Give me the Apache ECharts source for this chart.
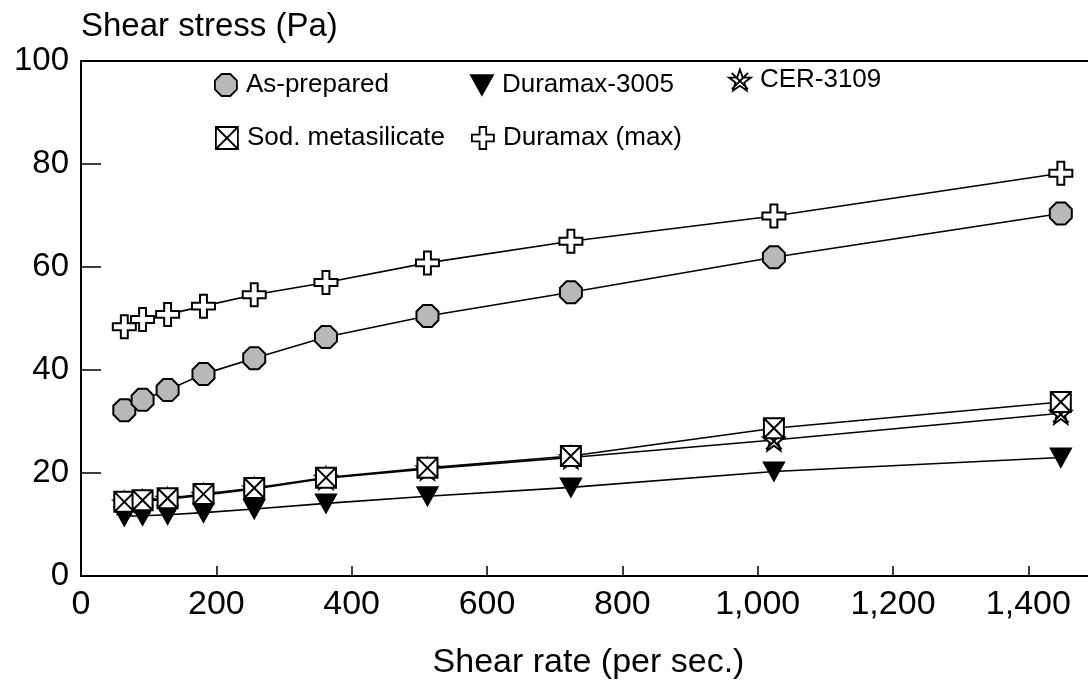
<!DOCTYPE html>
<html>
<head>
<meta charset="utf-8">
<script src="https://cdn.jsdelivr.net/npm/echarts@6/dist/echarts.min.js"></script>
<style>
  html, body { margin: 0; padding: 0; background: #fff; }
  #chart { width: 1088px; height: 681px; }
</style>
</head>
<body>
<div id="chart"></div>
<script>
// shear rate (per sec.), same for every sample
var shearRates = [64, 91, 128, 181, 256, 362, 512, 724, 1024, 1448];

// shear stress (Pa) per sample
var asPrepared      = [32.2, 34.2, 36.1, 39.2, 42.3, 46.4, 50.5, 55.1, 61.9, 70.4];
var duramax3005     = [11.6, 11.7, 11.9, 12.3, 13.0, 14.1, 15.5, 17.2, 20.3, 23.0];
var cer3109         = [14.2, 14.5, 14.9, 15.7, 16.9, 19.0, 20.8, 23.0, 26.4, 31.6];
var sodMetasilicate = [14.4, 14.7, 15.1, 15.9, 17.1, 19.1, 21.0, 23.3, 28.7, 33.8];
var duramaxMax      = [48.4, 49.8, 50.8, 52.4, 54.6, 57.0, 60.8, 65.0, 69.9, 78.2];

var seriesNames = ["As-prepared", "Duramax-3005", "CER-3109", "Sod. metasilicate", "Duramax (max)"];

// marker shapes
var octagon = "path://M6,0 L14,0 L20,6 L20,14 L14,20 L6,20 L0,14 L0,6 Z";
var triDown = "path://M0,0 L20,0 L10,18 Z";
var starX = "path://M10,0 L12.35,6.76 L19.51,6.91 L13.8,11.24 L15.88,18.09 L10,14 L4.12,18.09 L6.2,11.24 L0.49,6.91 L7.65,6.76 Z M3,3 L17,17 M17,3 L3,17";
var boxX = "path://M0,0 L20,0 L20,20 L0,20 Z M0,0 L20,20 M20,0 L0,20";
var plus = "path://M7,0 L13,0 L13,7 L20,7 L20,13 L13,13 L13,20 L7,20 L7,13 L0,13 L0,7 L7,7 Z";

var FONT = "Arial, 'Liberation Sans', Helvetica, sans-serif";

function pairs(ys) {
  return shearRates.map(function (x, i) { return [x, ys[i]]; });
}

var markerStyles = [
  { symbol: octagon, size: 22, color: "#b8b8b8" },
  { symbol: triDown, size: [20, 18], color: "#000" },
  { symbol: starX, size: 21, color: "#fff" },
  { symbol: boxX, size: 20, color: "#fff" },
  { symbol: plus, size: 23, color: "#fff" },
];
var allData = [asPrepared, duramax3005, cer3109, sodMetasilicate, duramaxMax];

var series = seriesNames.map(function (name, i) {
  var m = markerStyles[i];
  return {
    name: name,
    type: "line",
    data: pairs(allData[i]),
    symbol: m.symbol,
    symbolSize: m.size,
    showAllSymbol: true,
    lineStyle: { color: "#000", width: 1.6 },
    itemStyle: { color: m.color, borderColor: "#000", borderWidth: 2 },
    z: 2 + i,
  };
});

// one legend per entry, so they line up like the original two rows
var legendSpots = [
  { left: 209, top: 67 },
  { left: 465, top: 67 },
  { left: 723, top: 62 },
  { left: 210, top: 120 },
  { left: 466, top: 120 },
];
var legends = seriesNames.map(function (name, i) {
  var m = markerStyles[i];
  return {
    left: legendSpots[i].left,
    top: legendSpots[i].top,
    itemWidth: 22,
    itemHeight: 22,
    selectedMode: false,
    textStyle: { fontFamily: FONT, fontSize: 26, color: "#000", padding: [0, 0, 0, 4] },
    data: [{
      name: name,
      icon: m.symbol,
      itemStyle: { color: m.color, borderColor: "#000", borderWidth: 1.8 },
    }],
  };
});

var chart = echarts.init(document.getElementById("chart"));
chart.setOption({
  animation: false,
  backgroundColor: "#fff",
  grid: { left: 81, top: 61, bottom: 105, right: -8, outerBoundsMode: "none", containLabel: false },
  legend: legends,
  xAxis: [
    {
      type: "value",
      min: 0,
      max: 1500,
      interval: 200,
      name: "Shear rate (per sec.)",
      nameLocation: "middle",
      nameGap: 70,
      nameTextStyle: { fontFamily: FONT, fontSize: 34, color: "#000" },
      axisLine: { lineStyle: { color: "#000", width: 2 } },
      axisTick: { inside: true, length: 10, lineStyle: { color: "#000", width: 1.5 } },
      axisLabel: {
        fontFamily: FONT,
        fontSize: 34,
        color: "#000",
        margin: 12,
        showMaxLabel: false,
        formatter: function (v) { return v % 200 === 0 ? v.toLocaleString("en-US") : ""; },
      },
      splitLine: { show: false },
    },
    {
      type: "value",
      position: "top",
      min: 0,
      max: 1500,
      axisLine: { lineStyle: { color: "#000", width: 2 } },
      axisTick: { show: false },
      axisLabel: { show: false },
      splitLine: { show: false },
    },
  ],
  yAxis: {
    type: "value",
    min: 0,
    max: 100,
    interval: 20,
    name: "Shear stress (Pa)",
    nameLocation: "end",
    nameGap: 34,
    nameTextStyle: { fontFamily: FONT, fontSize: 33, color: "#000", align: "left", verticalAlign: "middle" },
    axisLine: { lineStyle: { color: "#000", width: 2 } },
    axisTick: { inside: true, length: 20, lineStyle: { color: "#000", width: 1.5 } },
    axisLabel: { fontFamily: FONT, fontSize: 33, color: "#000", margin: 12 },
    splitLine: { show: false },
  },
  series: series,
});
</script>
</body>
</html>
